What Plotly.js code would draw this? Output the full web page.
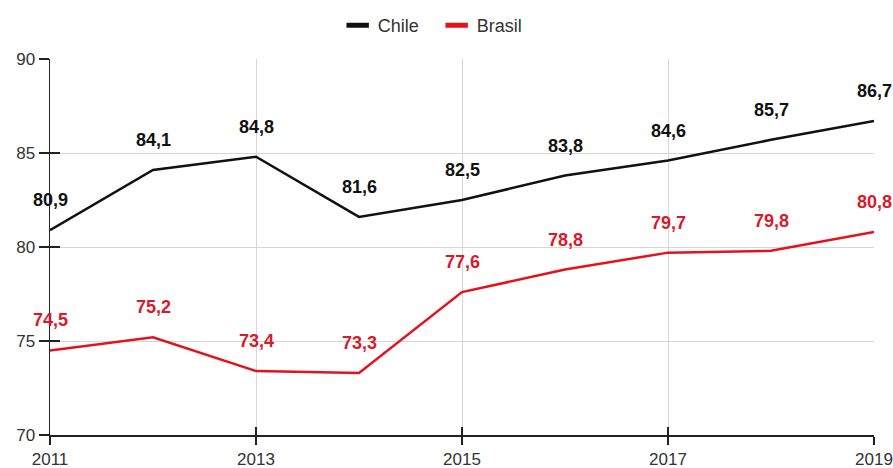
<!DOCTYPE html>
<html>
<head>
<meta charset="utf-8">
<script src="https://cdn.plot.ly/plotly-3.0.1.min.js"></script>
<style>html,body{margin:0;padding:0;background:#fff;}#chart{width:893px;height:468px;}</style>
</head>
<body>
<div id="chart"></div>
<script>
var years = [2011, 2012, 2013, 2014, 2015, 2016, 2017, 2018, 2019];
var chile = [80.9, 84.1, 84.8, 81.6, 82.5, 83.8, 84.6, 85.7, 86.7];
var brasil = [74.5, 75.2, 73.4, 73.3, 77.6, 78.8, 79.7, 79.8, 80.8];
var seriesNames = ['Chile', 'Brasil'];
var lineColors = ['#111111', '#e3121b'];
var labelColors = ['#111111', '#d81a2b'];

function fmt(v) { return v.toFixed(1).replace('.', ','); }

var font = 'Liberation Sans, Arial, sans-serif';

var traces = [
  {x: years, y: chile, name: seriesNames[0], mode: 'lines', line: {color: lineColors[0], width: 2.5}, hoverinfo: 'none', showlegend: false},
  {x: years, y: brasil, name: seriesNames[1], mode: 'lines', line: {color: lineColors[1], width: 2.5}, hoverinfo: 'none', showlegend: false},
  {x: [years[0]], y: [null], name: seriesNames[0], mode: 'markers', marker: {symbol: 'line-ew', size: 16, line: {color: lineColors[0], width: 5}}, hoverinfo: 'none'},
  {x: [years[0]], y: [null], name: seriesNames[1], mode: 'markers', marker: {symbol: 'line-ew', size: 16, line: {color: lineColors[1], width: 5}}, hoverinfo: 'none'},
  {x: [years[0]], y: [null], xaxis: 'x2', yaxis: 'y2', showlegend: false, hoverinfo: 'none'}
];

var annotations = [];
[chile, brasil].forEach(function (arr, si) {
  arr.forEach(function (v, i) {
    annotations.push({
      x: years[i], y: v, xref: 'x', yref: 'y', text: fmt(v), showarrow: false,
      yshift: 30, yanchor: 'middle', xanchor: 'center',
      font: {family: font, size: 18, color: labelColors[si], weight: 'bold'}
    });
  });
});

var layout = {
  width: 893, height: 468,
  margin: {l: 50, r: 19, t: 59, b: 33},
  paper_bgcolor: '#ffffff', plot_bgcolor: '#ffffff',
  showlegend: true,
  legend: {orientation: 'h', x: 0.489, xanchor: 'center', xref: 'container', y: 0.985, yanchor: 'top', yref: 'container',
           font: {family: font, size: 18, color: '#333333'}, itemwidth: 30, entrywidth: 54, entrywidthmode: 'pixels', tracegroupgap: 0},
  xaxis: {range: [2011, 2019], dtick: 2, tick0: 2011, showgrid: true, gridcolor: '#d6d6d6', gridwidth: 1,
          showline: true, linecolor: '#222222', linewidth: 1.5, ticks: 'outside', ticklen: 8, tickwidth: 1.5,
          tickcolor: '#222222', tickfont: {family: font, size: 17, color: '#333333'}, zeroline: false, fixedrange: true},
  yaxis: {range: [70, 90], dtick: 5, tick0: 70, showgrid: true, gridcolor: '#d6d6d6', gridwidth: 1,
          showline: true, linecolor: '#222222', linewidth: 1.5, ticks: 'outside', ticklen: 10, tickwidth: 1.5,
          tickcolor: '#222222', tickfont: {family: font, size: 17, color: '#333333'}, zeroline: false, fixedrange: true},
  xaxis2: {overlaying: 'x', range: [2011, 2019], dtick: 2, tick0: 2011, side: 'bottom', anchor: 'y2', showgrid: false, showline: false,
           ticks: 'inside', ticklen: 8, tickwidth: 1.5, tickcolor: '#222222', showticklabels: false, zeroline: false},
  yaxis2: {overlaying: 'y', range: [70, 90], dtick: 5, tick0: 70, side: 'left', anchor: 'x2', showgrid: false, showline: false,
           ticks: 'inside', ticklen: 10, tickwidth: 1.5, tickcolor: '#222222', showticklabels: false, zeroline: false},
  annotations: annotations
};

Plotly.newPlot('chart', traces, layout, {displayModeBar: false, staticPlot: true});
</script>
</body>
</html>
